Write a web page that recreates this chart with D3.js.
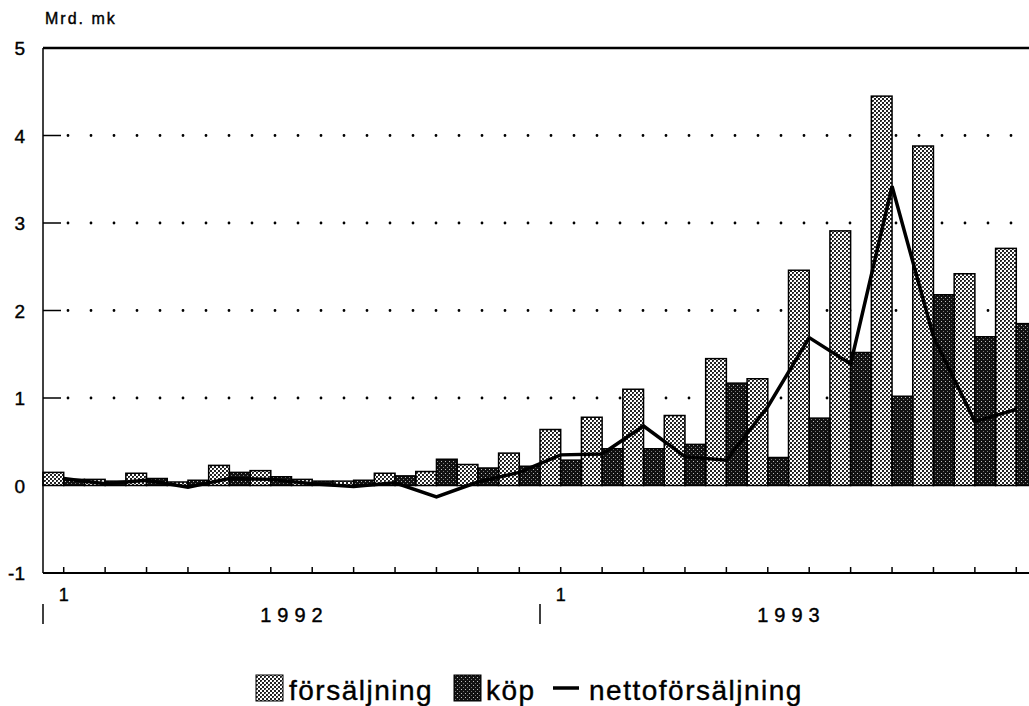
<!DOCTYPE html>
<html><head><meta charset="utf-8">
<script src="https://cdn.jsdelivr.net/npm/d3@7/dist/d3.min.js"></script>
<style>body{margin:0;background:#fff}svg{display:block}text{font-family:"Liberation Sans",Arial,Helvetica,sans-serif;fill:#000;stroke:#000;stroke-width:0.4px}</style>
</head><body><svg id="c" width="1029" height="706"></svg>
<script>
const months = ["1992-01","1992-02","1992-03","1992-04","1992-05","1992-06","1992-07","1992-08","1992-09","1992-10","1992-11","1992-12",
                "1993-01","1993-02","1993-03","1993-04","1993-05","1993-06","1993-07","1993-08","1993-09","1993-10","1993-11","1993-12"];
const forsaljning = [0.15,0.07,0.14,0.04,0.23,0.17,0.07,0.05,0.14,0.16,0.24,0.37, 0.64,0.78,1.10,0.80,1.45,1.22,2.46,2.91,4.45,3.88,2.42,2.71];
const kop         = [0.07,0.05,0.08,0.06,0.15,0.10,0.05,0.06,0.11,0.30,0.20,0.22, 0.29,0.42,0.42,0.47,1.17,0.32,0.77,1.52,1.02,2.18,1.70,1.85];
const netto       = [0.08,0.02,0.06,-0.02,0.08,0.07,0.02,-0.01,0.03,-0.13,0.04,0.15, 0.35,0.36,0.68,0.33,0.29,0.90,1.69,1.39,3.42,1.70,0.73,0.87];
const yTicks = [-1,0,1,2,3,4,5];
const gridVals = [1,2,3,4];
const monthLabels = [{m:"1992-01",t:"1"},{m:"1993-01",t:"1"}];
const years = [{y:"1992",from:"1992-01",to:"1992-12"},{y:"1993",from:"1993-01",to:"1993-12"}];
const unitLabel = "Mrd. mk";
const legendItems = ["försäljning","köp","nettoförsäljning"];

const svg = d3.select("#c");
const defs = svg.append("defs");
// light stipple
const pl = defs.append("pattern").attr("id","pLight").attr("patternUnits","userSpaceOnUse").attr("width",4).attr("height",4);
pl.append("rect").attr("width",4).attr("height",4).attr("fill","#fff");
pl.append("rect").attr("x",0).attr("y",0).attr("width",2).attr("height",2).attr("fill","#222");
pl.append("rect").attr("x",2).attr("y",2).attr("width",2).attr("height",2).attr("fill","#222");
pl.append("rect").attr("x",1).attr("y",1).attr("width",1).attr("height",1).attr("fill","#666");
// dark stipple
const pd = defs.append("pattern").attr("id","pDark").attr("patternUnits","userSpaceOnUse").attr("width",4).attr("height",4);
pd.append("rect").attr("width",4).attr("height",4).attr("fill","#111");
pd.append("rect").attr("x",1).attr("y",1).attr("width",1).attr("height",1).attr("fill","#bbb");
pd.append("rect").attr("x",3).attr("y",3).attr("width",1).attr("height",1).attr("fill","#777");

const x = d3.scaleBand().domain(months).range([43,1037]).paddingInner(0).paddingOuter(0);
const y = d3.scaleLinear().domain([-1,5]).range([573,48]);
const bw = x.bandwidth()/2;

// grid dotted lines
svg.append("g").selectAll("line").data(gridVals).join("line")
  .attr("x1",68).attr("x2",1037).attr("y1",d=>y(d)).attr("y2",d=>y(d))
  .attr("stroke","#000").attr("stroke-width",2.8).attr("stroke-linecap","round")
  .attr("stroke-dasharray","0 23");
// inner y ticks
svg.append("g").selectAll("line").data(gridVals).join("line")
  .attr("x1",43).attr("x2",61).attr("y1",d=>y(d)).attr("y2",d=>y(d))
  .attr("stroke","#000").attr("stroke-width",1.5);

// bars
const bars = svg.append("g").attr("stroke","#000").attr("stroke-width",1.5);
bars.selectAll("rect.s").data(months).join("rect").attr("class","s")
  .attr("x",d=>x(d)).attr("width",bw)
  .attr("y",(d,i)=>y(forsaljning[i])).attr("height",(d,i)=>y(0)-y(forsaljning[i]))
  .attr("fill","url(#pLight)");
bars.selectAll("rect.k").data(months).join("rect").attr("class","k")
  .attr("x",d=>x(d)+bw).attr("width",bw)
  .attr("y",(d,i)=>y(kop[i])).attr("height",(d,i)=>y(0)-y(kop[i]))
  .attr("fill","url(#pDark)");

// net line
const line = d3.line().x((d,i)=>x(months[i])+bw).y(d=>y(d));
svg.append("path").datum(netto).attr("d",line).attr("fill","none")
  .attr("stroke","#000").attr("stroke-width",3.5).attr("stroke-linejoin","miter");

// frame/axes
svg.append("line").attr("x1",43).attr("x2",1037).attr("y1",y(5)).attr("y2",y(5)).attr("stroke","#000").attr("stroke-width",2.5);
svg.append("line").attr("x1",43).attr("x2",43).attr("y1",y(5)).attr("y2",y(-1)).attr("stroke","#000").attr("stroke-width",1.5);
svg.append("line").attr("x1",43).attr("x2",1037).attr("y1",y(-1)).attr("y2",y(-1)).attr("stroke","#000").attr("stroke-width",2);
// month ticks
svg.append("g").selectAll("line").data(months).join("line")
  .attr("x1",d=>x(d)+bw).attr("x2",d=>x(d)+bw).attr("y1",y(-1)).attr("y2",y(-1)-6)
  .attr("stroke","#000").attr("stroke-width",1.5);

// y labels
svg.append("g").selectAll("text").data(yTicks).join("text")
  .attr("x",25).attr("y",d=>y(d)+7).attr("text-anchor","end")
  .style("font-size","19px").text(d=>d);
svg.append("text").attr("x",45).attr("y",24).style("font-size","16px").style("letter-spacing","2px").text(unitLabel);

// month labels
svg.append("g").selectAll("text").data(monthLabels).join("text")
  .attr("x",d=>x(d.m)+bw).attr("y",601).attr("text-anchor","middle").style("font-size","18px").text(d=>d.t);
// year separators
svg.append("g").selectAll("line").data(years).join("line")
  .attr("x1",d=>x(d.from)).attr("x2",d=>x(d.from)).attr("y1",604).attr("y2",624)
  .attr("stroke","#000").attr("stroke-width",1.5);
svg.append("g").selectAll("text").data(years).join("text")
  .attr("x",d=>(x(d.from)+x(d.to)+x.bandwidth())/2 + 3).attr("y",622).attr("text-anchor","middle")
  .style("font-size","20px").style("letter-spacing","6px").text(d=>d.y);

// legend
const lg = svg.append("g");
lg.append("rect").attr("x",256).attr("y",675).attr("width",27).attr("height",26).attr("fill","url(#pLight)").attr("stroke","#000").attr("stroke-width",1);
lg.append("text").attr("x",289).attr("y",700).style("font-size","28px").style("letter-spacing","1.5px").text(legendItems[0]);
lg.append("rect").attr("x",454).attr("y",675).attr("width",27).attr("height",26).attr("fill","url(#pDark)").attr("stroke","#000").attr("stroke-width",1);
lg.append("text").attr("x",486).attr("y",700).style("font-size","28px").style("letter-spacing","1.5px").text(legendItems[1]);
lg.append("line").attr("x1",553).attr("x2",579).attr("y1",688).attr("y2",688).attr("stroke","#000").attr("stroke-width",3.5);
lg.append("text").attr("x",589).attr("y",700).style("font-size","28px").style("letter-spacing","1.5px").text(legendItems[2]);
</script></body></html>
